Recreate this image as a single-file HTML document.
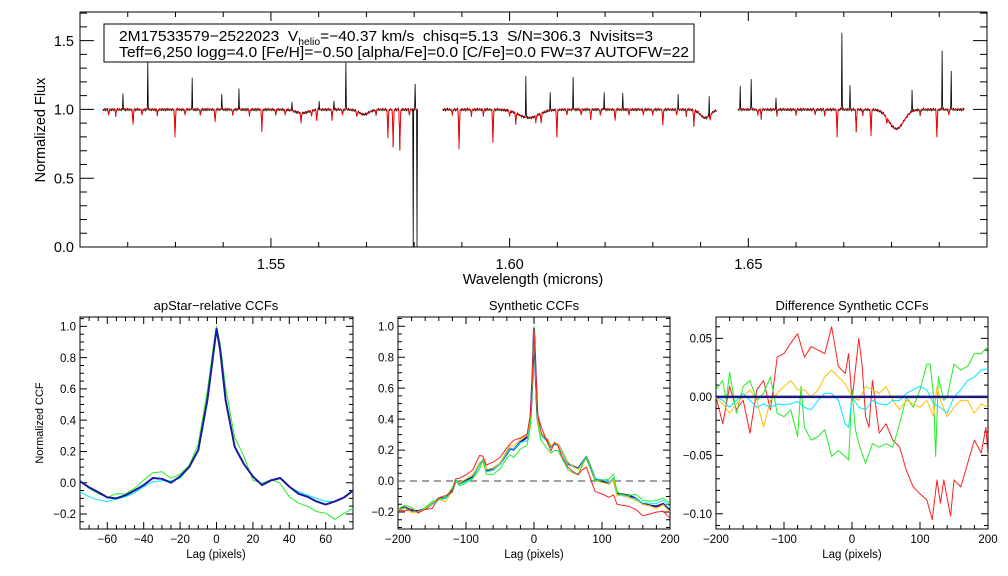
<!DOCTYPE html>
<html><head><meta charset="utf-8"><style>
html,body{margin:0;padding:0;background:#fff;}
svg{display:block;font-family:"Liberation Sans",sans-serif;}
</style></head><body>
<svg id="fig" width="1008" height="576" viewBox="0 0 1008 576" xmlns="http://www.w3.org/2000/svg">
<rect width="1008" height="576" fill="#fff"/>
<g id="top"></g>
<g id="p1"></g>
<g id="p2"></g>
<g id="p3"></g>
<g>
<rect x="104" y="24" width="590" height="38" fill="#fff" stroke="#000" stroke-width="1"/>
<text x="119" y="41" font-size="15" textLength="534" lengthAdjust="spacingAndGlyphs" xml:space="preserve">2M17533579−2522023  V<tspan font-size="10" dy="4">helio</tspan><tspan dy="-4">=−40.37 km/s  chisq=5.13  S/N=306.3  Nvisits=3</tspan></text>
<text x="119" y="57" font-size="15" textLength="570" lengthAdjust="spacingAndGlyphs">Teff=6,250 logg=4.0 [Fe/H]=−0.50 [alpha/Fe]=0.0 [C/Fe]=0.0 FW=37 AUTOFW=22</text>
</g>
<text x="533" y="284" font-size="14.5" text-anchor="middle">Wavelength (microns)</text>
<text transform="translate(45,130) rotate(-90)" font-size="14.5" text-anchor="middle">Normalized Flux</text>
<text x="216" y="310" font-size="13" text-anchor="middle">apStar−relative CCFs</text>
<text x="534" y="310" font-size="13" text-anchor="middle">Synthetic CCFs</text>
<text x="852" y="310" font-size="13" text-anchor="middle">Difference Synthetic CCFs</text>
<text x="216" y="558" font-size="11.5" text-anchor="middle">Lag (pixels)</text>
<text x="534" y="558" font-size="11.5" text-anchor="middle">Lag (pixels)</text>
<text x="852" y="558" font-size="11.5" text-anchor="middle">Lag (pixels)</text>
<text transform="translate(43,423) rotate(-90)" font-size="11" text-anchor="middle">Normalized CCF</text>
</svg>
<script>
// ---------- Spectrum data ----------
const chipRanges = [[1.5148,1.5807],[1.5860,1.6433],[1.6479,1.6952]];
const absWave = [1.5211,1.5299,1.5383,1.5481,1.5563,1.5596,1.5628,1.5745,1.5756,1.5770,1.5894,1.5965,1.6013,1.6066,1.6099,1.6170,1.6221,1.6321,1.6386,1.6527,1.6686,1.6726,1.6757,1.6895];
const absMin  = [0.89,0.80,0.91,0.85,0.93,0.92,0.93,0.80,0.73,0.71,0.72,0.76,0.93,0.93,0.80,0.93,0.92,0.89,0.89,0.94,0.81,0.84,0.81,0.80];
const broadWave = [1.5565,1.5695,1.6040,1.6410,1.6810];
const broadMin  = [0.975,0.965,0.94,0.94,0.86];
const broadWidth= [0.0020,0.0015,0.0030,0.0015,0.0022];
const emWave = [1.5190,1.5242,1.5335,1.5397,1.5433,1.5544,1.5601,1.5632,1.5657,1.5802,1.6034,1.6085,1.6133,1.6198,1.6237,1.6353,1.6418,1.6483,1.6506,1.6558,1.6696,1.6713,1.6843,1.6906,1.6925];
const emPeak = [1.11,1.34,1.22,1.12,1.15,1.07,1.06,1.07,1.34,1.19,1.31,1.13,1.23,1.12,1.12,1.10,1.14,1.16,1.23,1.09,1.55,1.18,1.15,1.42,1.28];
const dropWave = [1.5798,1.5806];
const noise = [0.004,-0.009,0.002,-0.006,0.008,-0.002,-0.012,0.005,0.001,-0.007,0.010,-0.004,0.0,-0.008,0.006,-0.001,-0.005,0.003,-0.010,0.007,-0.003];
const weakLines = [1.5160,1.5175,1.5230,1.5262,1.5320,1.5352,1.5420,1.5455,1.5510,1.5530,1.5585,1.5650,1.5680,1.5720,1.5790,1.5880,1.5920,1.5945,1.6000,1.6055,1.6120,1.6150,1.6190,1.6250,1.6280,1.6300,1.6350,1.6370,1.6420,1.6520,1.6560,1.6600,1.6640,1.6660,1.6740,1.6790,1.6860,1.6920];

// ---------- CCF data ----------
const lags1 = [-75,-70,-65,-60,-55,-50,-45,-40,-35,-30,-25,-20,-15,-10,-5,-2,0,2,5,10,15,20,25,30,35,40,45,50,55,60,65,70,75];
const ccf1Cyan = [-0.057,-0.09,-0.11,-0.12,-0.105,-0.09,-0.065,-0.025,0.006,0.012,0.012,0.028,0.10,0.21,0.53,0.80,0.985,0.85,0.53,0.23,0.12,0.04,-0.015,0.015,0.03,-0.025,-0.057,-0.08,-0.10,-0.12,-0.12,-0.095,-0.05];
const ccf1Green = [0.01,-0.036,-0.07,-0.094,-0.07,-0.072,-0.036,0.017,0.064,0.07,0.028,0.055,0.11,0.25,0.59,0.85,1.0,0.89,0.61,0.29,0.17,0.017,-0.004,0.02,-0.004,-0.09,-0.13,-0.15,-0.185,-0.195,-0.234,-0.196,-0.164];
const ccf1Blue = [0.01,-0.03,-0.06,-0.094,-0.10,-0.08,-0.05,-0.015,0.03,0.025,0.0,0.04,0.10,0.21,0.53,0.80,0.985,0.85,0.53,0.23,0.12,0.04,-0.015,0.015,0.03,-0.025,-0.07,-0.09,-0.12,-0.14,-0.12,-0.095,-0.05];

const lags2 = [-200,-190,-180,-170,-160,-150,-140,-130,-120,-115,-110,-100,-90,-80,-75,-70,-60,-50,-40,-35,-30,-20,-10,-5,-2,0,2,5,10,20,25,30,35,40,50,60,65,70,77,85,90,100,110,117,122,130,140,150,160,170,180,190,200];
const ccf2Blue = [-0.19,-0.17,-0.19,-0.194,-0.18,-0.147,-0.114,-0.108,-0.06,0.004,-0.017,0.004,0.026,0.112,0.134,0.069,0.08,0.112,0.177,0.209,0.203,0.252,0.284,0.41,0.69,0.985,0.74,0.41,0.306,0.263,0.22,0.237,0.237,0.198,0.112,0.09,0.08,0.112,0.155,0.069,0.009,0,-0.017,0.015,-0.08,-0.086,-0.093,-0.114,-0.147,-0.157,-0.164,-0.147,-0.19];
const ccf2Cyan = [-0.19,-0.173,-0.199,-0.197,-0.177,-0.15,-0.123,-0.114,-0.069,-0.002,-0.023,-0.003,0.02,0.108,0.128,0.06,0.069,0.109,0.18,0.21,0.206,0.249,0.261,0.385,0.68,0.99,0.735,0.40,0.297,0.252,0.215,0.234,0.232,0.192,0.105,0.087,0.078,0.109,0.158,0.073,0.015,0.009,-0.011,0.017,-0.086,-0.095,-0.107,-0.114,-0.141,-0.143,-0.147,-0.124,-0.166];
const ccf2Orange = [-0.191,-0.176,-0.204,-0.2,-0.18,-0.141,-0.117,-0.134,-0.063,0.007,-0.014,0.013,0.04,0.118,0.14,0.075,0.08,0.118,0.194,0.23,0.226,0.269,0.295,0.42,0.69,0.985,0.735,0.405,0.303,0.272,0.228,0.243,0.24,0.201,0.121,0.087,0.075,0.101,0.152,0.066,0.003,-0.009,-0.02,0.01,-0.097,-0.089,-0.11,-0.123,-0.15,-0.16,-0.178,-0.153,-0.199];
const ccf2Green = [-0.184,-0.156,-0.17,-0.208,-0.171,-0.133,-0.117,-0.105,-0.043,0.01,-0.031,-0.013,0.015,0.078,0.143,0.043,0.043,0.078,0.149,0.17,0.152,0.206,0.233,0.36,0.68,1.0,0.72,0.38,0.266,0.206,0.18,0.197,0.197,0.158,0.072,0.047,0.05,0.089,0.155,0.069,0.003,0.006,0.011,0.045,-0.07,-0.089,-0.093,-0.086,-0.124,-0.131,-0.127,-0.11,-0.147];
const ccf2Red = [-0.19,-0.193,-0.181,-0.205,-0.183,-0.178,-0.108,-0.094,-0.071,0.015,0.017,0.041,0.072,0.166,0.16,0.103,0.123,0.152,0.214,0.24,0.263,0.278,0.304,0.44,0.72,0.982,0.78,0.44,0.356,0.246,0.194,0.251,0.23,0.167,0.089,0.053,0.04,0.069,0.09,-0.01,-0.068,-0.083,-0.105,-0.09,-0.15,-0.157,-0.164,-0.185,-0.224,-0.214,-0.201,-0.195,-0.241];

const lagsRed3 = [-200,-190,-180,-170,-160,-150,-140,-130,-120,-115,-110,-100,-90,-80,-70,-60,-50,-40,-30,-20,-10,-5,0,10,15,20,25,30,40,50,60,70,80,90,100,110,118,125,130,135,145,150,160,170,180,190,197,200];
const diffRed = [0,-0.023,0.009,-0.011,-0.003,-0.031,0.006,0.014,-0.011,0.011,0.034,0.037,0.046,0.054,0.034,0.043,0.04,0.037,0.06,0.026,0.02,0.037,-0.003,0.05,0.026,-0.017,-0.026,0.014,-0.031,-0.023,-0.037,-0.043,-0.063,-0.077,-0.083,-0.088,-0.105,-0.071,-0.091,-0.071,-0.102,-0.071,-0.077,-0.057,-0.037,-0.048,-0.026,-0.051];
const lagsGreen3 = [-200,-190,-185,-180,-170,-160,-150,-140,-130,-120,-110,-100,-90,-80,-75,-70,-60,-50,-40,-30,-20,-10,-5,0,5,10,20,30,40,50,60,70,80,90,100,110,115,120,123,127,135,140,150,160,170,180,190,200];
const diffGreen = [0.006,0.014,-0.003,0.021,-0.014,0.009,0.014,-0.003,0.003,0.017,-0.014,-0.017,-0.011,-0.034,0.009,-0.026,-0.037,-0.034,-0.028,-0.051,-0.046,-0.051,-0.054,0.006,-0.028,-0.04,-0.057,-0.04,-0.043,-0.04,-0.043,-0.023,0,-0.009,0.006,0.028,0.028,0,-0.051,0.017,-0.003,0,0.028,0.023,0.026,0.037,0.037,0.043];
const lagsOrange3 = [-200,-190,-180,-170,-160,-150,-140,-130,-120,-110,-100,-90,-80,-70,-60,-50,-40,-30,-20,-10,0,10,20,30,40,50,60,70,80,90,100,110,120,125,130,140,150,160,170,180,190,200];
const diffOrange = [-0.001,-0.006,-0.014,-0.006,0,0.006,-0.003,-0.026,-0.003,0.003,0.009,0.014,0.006,0.006,0,0.006,0.017,0.023,0.017,0.011,0,-0.003,0.009,0.006,0.003,0.009,-0.003,-0.011,-0.003,-0.006,-0.009,-0.003,-0.017,0.009,-0.003,-0.017,-0.009,-0.003,-0.003,-0.014,-0.006,-0.009];
const lagsCyan3 = [-200,-190,-180,-170,-160,-150,-140,-130,-120,-110,-100,-90,-80,-70,-60,-50,-40,-30,-20,-10,-5,0,10,20,30,40,50,60,70,80,90,100,110,120,130,140,150,160,170,180,190,200];
const diffCyan = [0,-0.003,-0.009,-0.003,0.003,-0.003,-0.009,-0.006,-0.009,-0.006,-0.007,-0.006,-0.004,-0.009,-0.011,-0.003,0.003,0.003,-0.003,-0.023,-0.026,0,-0.009,-0.011,-0.003,-0.006,-0.007,-0.003,-0.003,0.003,0.006,0.009,0.006,-0.006,-0.009,-0.014,0,0.006,0.014,0.017,0.023,0.024];
const lagsBlue3 = [-200,200];
const diffBlue = [0,0];

// ---------- helpers ----------
const NS='http://www.w3.org/2000/svg';
function mk(parent,tag,attrs){const e=document.createElementNS(NS,tag);for(const k in attrs)e.setAttribute(k,attrs[k]);parent.appendChild(e);return e;}
function lin(d0,d1,r0,r1){return v=>r0+(v-d0)*(r1-r0)/(d1-d0);}
function axes(g,b,xs,ys,xMaj,xMin,yMaj,yMin,xFmt,yFmt,fs,xl,yl,ml,mn){
  const f=mk(g,'rect',{x:b.x0,y:b.y0,width:b.x1-b.x0,height:b.y1-b.y0,fill:'none',stroke:'#000','stroke-width':1});
  
  
  let d='';
  xMin.forEach(v=>{const x=xs(v);d+=`M${x} ${b.y1}v${-xl[1]}M${x} ${b.y0}v${xl[1]}`;});
  xMaj.forEach(v=>{const x=xs(v);d+=`M${x} ${b.y1}v${-xl[0]}M${x} ${b.y0}v${xl[0]}`;});
  yMin.forEach(v=>{const y=ys(v);d+=`M${b.x0} ${y}h${yl[1]}M${b.x1} ${y}h${-yl[1]}`;});
  yMaj.forEach(v=>{const y=ys(v);d+=`M${b.x0} ${y}h${yl[0]}M${b.x1} ${y}h${-yl[0]}`;});
  const t=mk(g,'path',{d:d,stroke:'#000','stroke-width':1,fill:'none'});
  
  
  xMaj.forEach(v=>{const e=mk(g,'text',{x:xs(v),y:b.y1+ml,'font-size':fs,'text-anchor':'middle'});e.textContent=xFmt(v);
    
    });
  yMaj.forEach(v=>{const e=mk(g,'text',{x:b.x0-mn,y:ys(v)+fs*0.36,'font-size':fs,'text-anchor':'end'});e.textContent=yFmt(v);
    
    });
}
function line(g,xs,ys,X,Y,color,w,name){
  let d='';X.forEach((v,i)=>{d+=(i?'L':'M')+xs(v).toFixed(2)+' '+ys(Y[i]).toFixed(2);});
  const p=mk(g,'path',{d:d,stroke:color,'stroke-width':w,fill:'none','stroke-linejoin':'round'});
  
  
}
function rng(a,b,s){const r=[];for(let v=a;v<=b+1e-9;v+=s)r.push(+v.toFixed(6));return r;}
const neg=s=>s.replace('-','−');

// ---------- top spectrum ----------
(function(){
  const g=document.getElementById('top');
  const b={x0:80,x1:987,y0:12,y1:247};
  const xs=lin(1.51,1.70,b.x0,b.x1), ys=lin(0,1.708,b.y1,b.y0);
  axes(g,b,xs,ys,[1.55,1.60,1.65],rng(1.51,1.70,0.01),[0,0.5,1.0,1.5],rng(0,1.7,0.1),v=>v.toFixed(2),v=>v.toFixed(1),14.5,[9,5],[14,7],22,6);
  function model(l){
    let f=1;
    absWave.forEach((c,i)=>{const u=(l-c)/0.00011;if(Math.abs(u)<5)f-=(1-absMin[i])*Math.exp(-u*u);});
    weakLines.forEach(c=>{const u=(l-c)/0.00011;if(Math.abs(u)<5)f-=0.04*Math.exp(-u*u);});
    broadWave.forEach((c,i)=>{const u=(l-c)/broadWidth[i];if(Math.abs(u)<5)f-=(1-broadMin[i])*Math.exp(-u*u);});
    return f;
  }
  const step=0.0001;
  chipRanges.forEach((r,ci)=>{
    const L=[],M=[],B=[];let k=0;
    for(let l=r[0];l<=r[1];l+=step){
      const m=model(l);let bl=m+noise[k%noise.length];k++;
      emWave.forEach((c,i)=>{const u=(l-c)/0.00006;if(Math.abs(u)<4)bl+=(emPeak[i]-1)*Math.exp(-u*u);});
      dropWave.forEach(c=>{if(Math.abs(l-c)<0.00006)bl=0;});
      L.push(l);M.push(m);B.push(bl);
    }
    line(g,xs,ys,L,B,'#000',0.8,'observed-spectrum-chip-'+(ci+1));
    line(g,xs,ys,L,M,'#ff0000',0.9,'model-spectrum-chip-'+(ci+1));
  });
})();

// ---------- panel 1 ----------
(function(){
  const g=document.getElementById('p1');
  const b={x0:80,x1:353,y0:317,y1:529};
  const xs=lin(-75,75,b.x0,b.x1), ys=lin(-0.296,1.06,b.y1,b.y0);
  axes(g,b,xs,ys,[-60,-40,-20,0,20,40,60],rng(-75,75,5),[-0.2,0,0.2,0.4,0.6,0.8,1.0],rng(-0.25,1.05,0.05),v=>neg(String(v)),v=>neg(v.toFixed(1)),11.5,[7,4],[7,4],14,4);
  line(g,xs,ys,lags1,ccf1Cyan,'#00e8ff',1,'ccf-cyan');
  line(g,xs,ys,lags1,ccf1Green,'#22ee22',1,'ccf-green');
  line(g,xs,ys,lags1,ccf1Blue,'#1a1aa0',2,'ccf-blue');
})();

// ---------- panel 2 ----------
(function(){
  const g=document.getElementById('p2');
  const b={x0:398,x1:670,y0:317,y1:529};
  const xs=lin(-200,200,b.x0,b.x1), ys=lin(-0.31,1.06,b.y1,b.y0);
  axes(g,b,xs,ys,[-200,-100,0,100,200],rng(-200,200,20),[-0.2,0,0.2,0.4,0.6,0.8,1.0],rng(-0.3,1.05,0.05),v=>neg(String(v)),v=>neg(v.toFixed(1)),11.5,[7,4],[7,4],14,4);
  const z=mk(g,'line',{x1:b.x0,x2:b.x1,y1:ys(0),y2:ys(0),stroke:'#666','stroke-width':1.2,'stroke-dasharray':'7,5'});
  
  
  line(g,xs,ys,lags2,ccf2Blue,'#1a1aa0',2,'ccf-blue');
  line(g,xs,ys,lags2,ccf2Cyan,'#00e8ff',1,'ccf-cyan');
  line(g,xs,ys,lags2,ccf2Orange,'#ffc000',1,'ccf-orange');
  line(g,xs,ys,lags2,ccf2Green,'#22ee22',1,'ccf-green');
  line(g,xs,ys,lags2,ccf2Red,'#ff2020',1,'ccf-red');
})();

// ---------- panel 3 ----------
(function(){
  const g=document.getElementById('p3');
  const b={x0:716,x1:988,y0:317,y1:529};
  const xs=lin(-200,200,b.x0,b.x1), ys=lin(-0.113,0.0683,b.y1,b.y0);
  axes(g,b,xs,ys,[-200,-100,0,100,200],rng(-200,200,20),[-0.10,-0.05,0,0.05],rng(-0.11,0.06,0.01),v=>neg(String(v)),v=>neg(v.toFixed(2)),11.5,[7,4],[7,4],14,4);
  line(g,xs,ys,lagsRed3,diffRed,'#ff2020',1,'diff-red');
  line(g,xs,ys,lagsGreen3,diffGreen,'#22ee22',1,'diff-green');
  line(g,xs,ys,lagsOrange3,diffOrange,'#ffc000',1,'diff-orange');
  line(g,xs,ys,lagsCyan3,diffCyan,'#00e8ff',1,'diff-cyan');
  line(g,xs,ys,lagsBlue3,diffBlue,'#1a1a80',2.5,'diff-blue');
})();
</script>
</body></html>
